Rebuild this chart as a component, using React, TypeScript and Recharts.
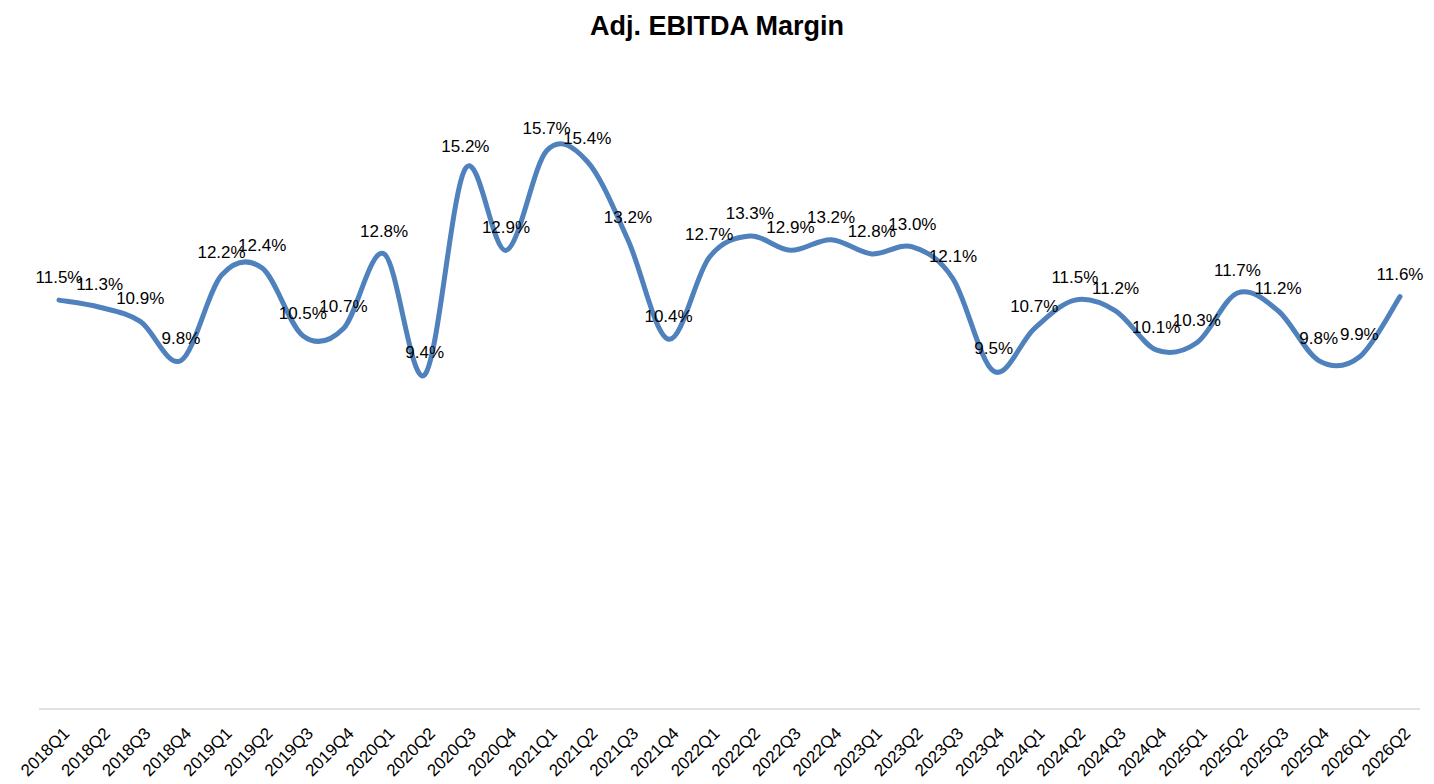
import React from 'react';
import { LineChart, Line, XAxis, YAxis, LabelList } from 'recharts';

const quarters = [
  '2018Q1', '2018Q2', '2018Q3', '2018Q4',
  '2019Q1', '2019Q2', '2019Q3', '2019Q4',
  '2020Q1', '2020Q2', '2020Q3', '2020Q4',
  '2021Q1', '2021Q2', '2021Q3', '2021Q4',
  '2022Q1', '2022Q2', '2022Q3', '2022Q4',
  '2023Q1', '2023Q2', '2023Q3', '2023Q4',
  '2024Q1', '2024Q2', '2024Q3', '2024Q4',
  '2025Q1', '2025Q2', '2025Q3', '2025Q4',
  '2026Q1', '2026Q2',
];

// Adj. EBITDA margin, percent
const ebitdaMargin = [
  11.5, 11.3, 10.9, 9.8,
  12.2, 12.4, 10.5, 10.7,
  12.8, 9.4, 15.2, 12.9,
  15.7, 15.4, 13.2, 10.4,
  12.7, 13.3, 12.9, 13.2,
  12.8, 13.0, 12.1, 9.5,
  10.7, 11.5, 11.2, 10.1,
  10.3, 11.7, 11.2, 9.8,
  9.9, 11.6,
];

const data = quarters.map((quarter, i) => ({ quarter, margin: ebitdaMargin[i] }));

const FONT = '"Liberation Sans", Arial, sans-serif';

// Excel-style smoothed line (Catmull-Rom through every point)
const smoothCurve = (context: any) => {
  let pts: number[][] = [];
  return {
    areaStart() {},
    areaEnd() {},
    lineStart() {
      pts = [];
    },
    lineEnd() {
      const n = pts.length;
      if (!n) return;
      context.moveTo(pts[0][0], pts[0][1]);
      for (let i = 0; i < n - 1; i++) {
        const p0 = pts[Math.max(i - 1, 0)];
        const p1 = pts[i];
        const p2 = pts[i + 1];
        const p3 = pts[Math.min(i + 2, n - 1)];
        context.bezierCurveTo(
          p1[0] + (p2[0] - p0[0]) / 6,
          p1[1] + (p2[1] - p0[1]) / 6,
          p2[0] - (p3[0] - p1[0]) / 6,
          p2[1] - (p3[1] - p1[1]) / 6,
          p2[0],
          p2[1]
        );
      }
    },
    point(x: number, y: number) {
      pts.push([+x, +y]);
    },
  };
};

const QuarterTick = ({ x, y, payload }: any) => {
  const ax = x + 3;
  const ay = y + 17;
  return (
    <text
      x={ax}
      y={ay}
      dy={12}
      textAnchor="end"
      transform={`rotate(-45, ${ax}, ${ay})`}
      fontSize={17}
      fontFamily={FONT}
      fill="#000"
    >
      {payload.value}
    </text>
  );
};

const ValueLabel = ({ x, y, value }: any) => (
  <text x={x} y={y - 17} textAnchor="middle" fontSize={17} fontFamily={FONT} fill="#000">
    {`${Number(value).toFixed(1)}%`}
  </text>
);

export default function App() {
  return (
    <div
      style={{
        position: 'absolute',
        left: 0,
        top: 0,
        width: 1434,
        height: 784,
        background: '#fff',
        fontFamily: FONT,
      }}
    >
      {/* Title */}
      <div
        style={{
          position: 'absolute',
          top: 11,
          width: '100%',
          textAlign: 'center',
          fontSize: 27,
          fontWeight: 'bold',
          color: '#000',
        }}
      >
        Adj. EBITDA Margin
      </div>

      {/* Chart */}
      <LineChart
        width={1434}
        height={784}
        data={data}
        margin={{ top: 69, right: 14, bottom: 0, left: 39 }}
      >
        <XAxis
          dataKey="quarter"
          interval={0}
          height={75}
          padding={{ left: 20, right: 20 }}
          tickLine={false}
          tickSize={0}
          tickMargin={0}
          axisLine={{ stroke: '#d9d9d9', strokeWidth: 1.5 }}
          tick={<QuarterTick />}
        />
        <YAxis hide domain={[0, 18]} />
        <Line
          type={smoothCurve as any}
          dataKey="margin"
          stroke="#4f81bd"
          strokeWidth={5}
          strokeLinecap="round"
          dot={false}
          activeDot={false}
          isAnimationActive={false}
        >
          <LabelList dataKey="margin" content={<ValueLabel />} />
        </Line>
      </LineChart>
    </div>
  );
}
